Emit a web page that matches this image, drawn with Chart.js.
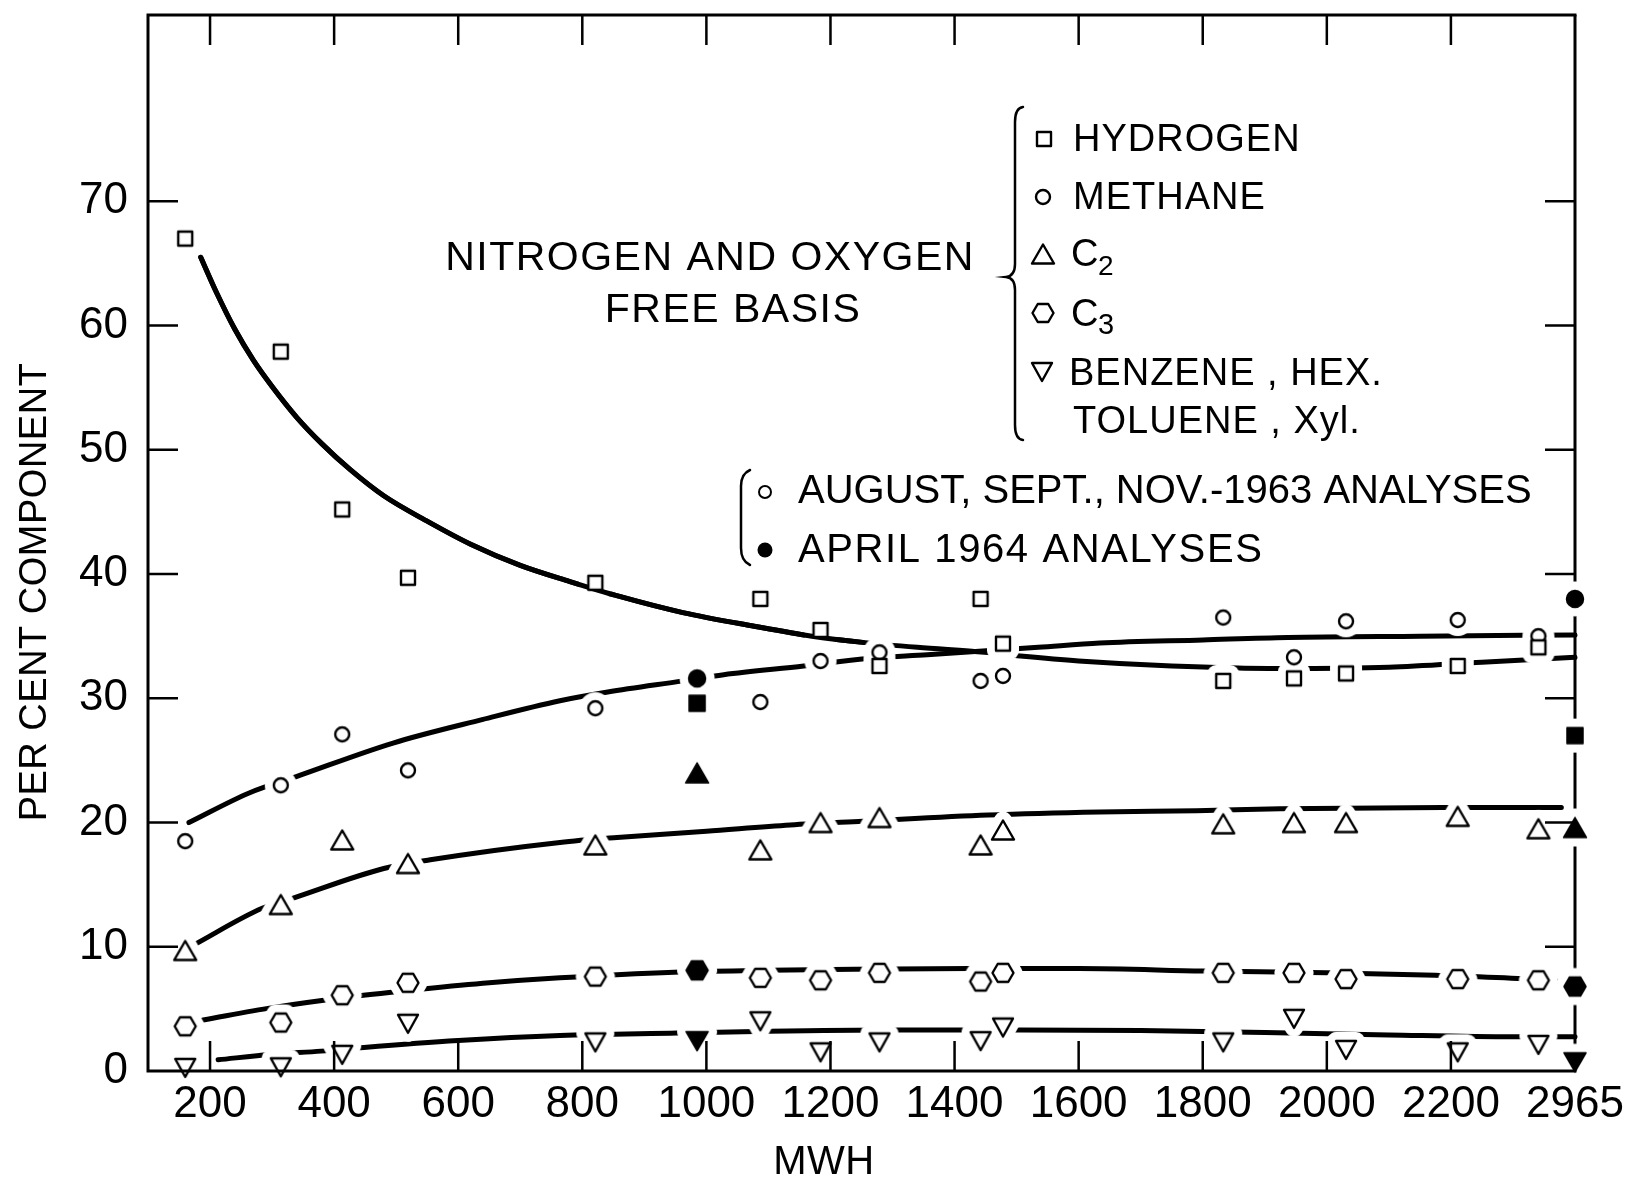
<!DOCTYPE html>
<html>
<head>
<meta charset="utf-8">
<title>Per cent component vs MWH</title>
<script src="https://cdn.jsdelivr.net/npm/chart.js@4.4.1/dist/chart.umd.min.js"></script>
<style>
  html, body { margin: 0; padding: 0; background: #fff; }
  #wrap { width: 1625px; height: 1177px; }
</style>
</head>
<body>
<div id="wrap"><canvas id="chart" width="1625" height="1177"></canvas></div>
<script>
// MWH of the Aug./Sept./Nov. 1963 analyses, shared by every component
const mwh = [160, 314, 413, 519, 821, 1087, 1184, 1279, 1442, 1478, 1833, 1947, 2031, 2211, 2341];

// per cent component, nitrogen and oxygen free basis
const hydrogen  = [67.0, 57.9, 45.2, 39.7, 39.3, 38.0, 35.5, 32.6, 38.0, 34.4, 31.4, 31.6, 32.0, 32.6, 34.1];
const methane   = [18.5, 23.0, 27.1, 24.2, 29.2, 29.7, 33.0, 33.7, 31.4, 31.8, 36.5, 33.3, 36.2, 36.3, 35.0];
const c2        = [9.7, 13.4, 18.6, 16.7, 18.2, 17.8, 20.0, 20.4, 18.2, 19.4, 19.9, 20.0, 20.0, 20.5, 19.5];
const c3        = [3.6, 3.9, 6.1, 7.1, 7.6, 7.5, 7.3, 7.9, 7.2, 7.9, 7.9, 7.9, 7.4, 7.4, 7.3];
const aromatics = [0.25, 0.3, 1.3, 3.8, 2.3, 4.0, 1.5, 2.3, 2.4, 3.5, 2.3, 4.2, 1.7, 1.5, 2.1];

// April 1964 analyses (the second one is plotted on the 2965 tick at the axis end)
const aprilMwh       = [985, 2400];
const aprilHydrogen  = [29.6, 27.0];
const aprilMethane   = [31.6, 38.0];
const aprilC2        = [24.0, 19.6];
const aprilC3        = [8.1, 6.8];
const aprilAromatics = [2.4, 0.7];

// hand-faired curves
const h2FitX = [185, 210, 240, 270, 300, 340, 380, 426, 480, 552, 620, 700, 780, 860, 962, 1077, 1170, 1252, 1340, 1448, 1506, 1600, 1750, 1925, 2100, 2250, 2400];
const h2FitY = [65.5, 62.7, 59.7, 57.2, 55.1, 52.6, 50.5, 48.4, 46.3, 44.2, 42.4, 40.7, 39.4, 38.2, 36.9, 35.8, 35.0, 34.5, 34.1, 33.7, 33.4, 33.0, 32.6, 32.4, 32.5, 32.9, 33.3];
const ch4FitX = [166, 264, 339, 495, 640, 764, 841, 962, 1028, 1157, 1259, 1356, 1535, 1634, 1800, 1937, 2150, 2400];
const ch4FitY = [20.0, 22.4, 23.7, 26.4, 28.3, 29.8, 30.5, 31.4, 31.9, 32.6, 33.2, 33.5, 34.1, 34.45, 34.7, 34.9, 35.0, 35.1];
const c2FitX = [172, 284, 333, 480, 555, 764, 856, 1000, 1135, 1252, 1454, 1634, 1790, 1925, 2192, 2378];
const c2FitY = [10.1, 13.1, 13.9, 16.3, 17.0, 18.4, 18.8, 19.3, 19.8, 20.1, 20.6, 20.85, 20.95, 21.1, 21.2, 21.2];
const c3FitX = [189, 300, 431, 543, 650, 764, 948, 1100, 1238, 1425, 1600, 1800, 2000, 2175, 2308, 2400];
const c3FitY = [4.1, 5.1, 6.0, 6.6, 7.1, 7.5, 7.95, 8.1, 8.2, 8.25, 8.25, 8.05, 7.9, 7.7, 7.45, 7.1];
const aromFitX = [213, 300, 379, 448, 600, 764, 953, 1100, 1300, 1500, 1700, 1900, 2100, 2300, 2400];
const aromFitY = [0.9, 1.35, 1.6, 1.9, 2.45, 2.85, 3.05, 3.2, 3.3, 3.3, 3.25, 3.1, 2.9, 2.75, 2.75];

// axes
const xTickValues = [200, 400, 600, 800, 1000, 1200, 1400, 1600, 1800, 2000, 2200, 2400];
const xTickLabels = ['200', '400', '600', '800', '1000', '1200', '1400', '1600', '1800', '2000', '2200', '2965'];
const yTickValues = [0, 10, 20, 30, 40, 50, 60, 70];

const FONT = '"Liberation Sans", Arial, sans-serif';
const HALO_PAD = 9;

// symbol sizes: [width, height] for open and filled versions
const SYMBOL = {
  square: { open: [14, 14], filled: [16, 16] },
  circle: { open: [14, 14], filled: [17, 17] },
  up:     { open: [22, 19], filled: [23, 20] },
  hex:    { open: [21, 18], filled: [22, 19] },
  down:   { open: [20, 18], filled: [22, 19] }
};

function shapePath(ctx, shape, w, h) {
  ctx.beginPath();
  if (shape === 'square') {
    ctx.rect(-w / 2, -h / 2, w, h);
  } else if (shape === 'circle') {
    ctx.ellipse(0, 0, w / 2, h / 2, 0, 0, Math.PI * 2);
  } else if (shape === 'up') {
    ctx.moveTo(0, -h / 2); ctx.lineTo(w / 2, h / 2); ctx.lineTo(-w / 2, h / 2); ctx.closePath();
  } else if (shape === 'down') {
    ctx.moveTo(-w / 2, -h / 2); ctx.lineTo(w / 2, -h / 2); ctx.lineTo(0, h / 2); ctx.closePath();
  } else if (shape === 'hex') {
    ctx.moveTo(-w / 2, 0); ctx.lineTo(-w / 4, -h / 2); ctx.lineTo(w / 4, -h / 2);
    ctx.lineTo(w / 2, 0); ctx.lineTo(w / 4, h / 2); ctx.lineTo(-w / 4, h / 2); ctx.closePath();
  }
}

// symbol drawn into a small canvas, used as a Chart.js pointStyle
function makeSymbol(shape, filled) {
  const [w, h] = SYMBOL[shape][filled ? 'filled' : 'open'];
  const size = 2 * Math.ceil(Math.max(w, h) / 2 + 3);
  const c = document.createElement('canvas');
  c.width = c.height = size;
  const g = c.getContext('2d');
  g.translate(size / 2, size / 2);
  g.lineJoin = 'round';
  shapePath(g, shape, w, h);
  g.fillStyle = filled ? '#000' : '#fff';
  g.fill();
  g.strokeStyle = '#000';
  g.lineWidth = filled ? 1.5 : 2.4;
  g.stroke();
  return c;
}

// white knock-out around a symbol, so the faired lines break where a point sits
function makeHalo(shape, filled) {
  const [w, h] = SYMBOL[shape][filled ? 'filled' : 'open'];
  const size = 2 * Math.ceil(Math.max(w, h) / 2 + HALO_PAD + 2);
  const c = document.createElement('canvas');
  c.width = c.height = size;
  const g = c.getContext('2d');
  g.translate(size / 2, size / 2);
  g.lineJoin = 'round';
  shapePath(g, shape, w, h);
  g.fillStyle = '#fff';
  g.fill();
  g.strokeStyle = '#fff';
  g.lineWidth = HALO_PAD * 2;
  g.stroke();
  return c;
}

const pts = (xs, ys) => xs.map((x, i) => ({ x, y: ys[i] }));

const components = [
  { shape: 'square', values: hydrogen,  april: aprilHydrogen,  fitX: h2FitX,   fitY: h2FitY },
  { shape: 'circle', values: methane,   april: aprilMethane,   fitX: ch4FitX,  fitY: ch4FitY },
  { shape: 'up',     values: c2,        april: aprilC2,        fitX: c2FitX,   fitY: c2FitY },
  { shape: 'hex',    values: c3,        april: aprilC3,        fitX: c3FitX,   fitY: c3FitY },
  { shape: 'down',   values: aromatics, april: aprilAromatics, fitX: aromFitX, fitY: aromFitY }
];

const symbols = {};
Object.keys(SYMBOL).forEach(s => {
  symbols[s] = {
    open: makeSymbol(s, false), filled: makeSymbol(s, true),
    openHalo: makeHalo(s, false), filledHalo: makeHalo(s, true)
  };
});

const fitStyle = {
  showLine: true, borderColor: '#000', borderWidth: 5, pointRadius: 0,
  cubicInterpolationMode: 'monotone', borderCapStyle: 'round', borderJoinStyle: 'round',
  fill: false, clip: false
};

const datasets = [];
components.forEach(c => {
  const sym = symbols[c.shape];
  datasets.push({ ...fitStyle, data: pts(c.fitX, c.fitY), order: 3 });
  datasets.push({ data: pts(mwh, c.values), pointStyle: sym.openHalo, pointRadius: 8, clip: false, order: 2 });
  datasets.push({ data: pts(aprilMwh, c.april), pointStyle: sym.filledHalo, pointRadius: 8, clip: false, order: 2 });
  datasets.push({ data: pts(mwh, c.values), pointStyle: sym.open, pointRadius: 8, clip: false, order: 1 });
  datasets.push({ data: pts(aprilMwh, c.april), pointStyle: sym.filled, pointRadius: 8, clip: false, order: 1 });
});
// the hydrogen curve is drawn unbroken up to where it meets the methane curve
datasets.push({
  ...fitStyle, data: pts(h2FitX, h2FitY), order: 1.5,
  segment: { borderColor: ctx => (ctx.p1.parsed.x > 1252 ? 'rgba(0,0,0,0)' : undefined) }
});

function text(ctx, str, x, y, size, spacing, align) {
  ctx.font = size + 'px ' + FONT;
  ctx.letterSpacing = (spacing || 0) + 'px';
  ctx.textAlign = align || 'left';
  ctx.textBaseline = 'alphabetic';
  ctx.fillText(str, x, y + 0.358 * size);
}

const framePlugin = {
  id: 'frame',
  beforeDatasetsDraw(chart) {
    // right edge goes under the points so it breaks around the April symbols
    const { ctx, chartArea: a } = chart;
    ctx.save();
    ctx.strokeStyle = '#000';
    ctx.lineWidth = 3;
    ctx.beginPath();
    ctx.moveTo(a.right, a.top);
    ctx.lineTo(a.right, a.bottom);
    ctx.stroke();
    ctx.restore();
  },
  afterDatasetsDraw(chart) {
    const { ctx, chartArea: a, scales } = chart;
    ctx.save();
    ctx.strokeStyle = '#000';
    ctx.lineCap = 'square';
    ctx.lineWidth = 3;
    ctx.beginPath();
    ctx.moveTo(a.right, a.top);
    ctx.lineTo(a.left, a.top);
    ctx.lineTo(a.left, a.bottom);
    ctx.lineTo(a.right, a.bottom);
    ctx.stroke();

    // inward tick marks on all four sides
    const len = 30;
    ctx.lineWidth = 2.5;
    ctx.lineCap = 'butt';
    ctx.beginPath();
    xTickValues.filter(v => v < 2400).forEach(v => {
      const px = scales.x.getPixelForValue(v);
      ctx.moveTo(px, a.top); ctx.lineTo(px, a.top + len);
      ctx.moveTo(px, a.bottom); ctx.lineTo(px, a.bottom - len);
    });
    yTickValues.filter(v => v > 0).forEach(v => {
      const py = scales.y.getPixelForValue(v);
      ctx.moveTo(a.left, py); ctx.lineTo(a.left + len, py);
      ctx.moveTo(a.right, py); ctx.lineTo(a.right - len, py);
    });
    ctx.stroke();
    ctx.restore();
  },
  afterDraw(chart) {
    const ctx = chart.ctx;
    ctx.save();
    ctx.fillStyle = '#000';
    ctx.strokeStyle = '#000';

    // axis titles
    text(ctx, 'MWH', 824, 1160, 40, 0.5, 'center');
    ctx.save();
    ctx.translate(32, 592);
    ctx.rotate(-Math.PI / 2);
    text(ctx, 'PER CENT COMPONENT', 0, 0, 38, 0.5, 'center');
    ctx.restore();

    // basis note
    text(ctx, 'NITROGEN AND OXYGEN', 710, 255, 41, 1.5, 'center');
    text(ctx, 'FREE BASIS', 733, 307, 41, 1.5, 'center');

    // component key with its brace
    ctx.lineWidth = 2.5;
    ctx.lineCap = 'round';
    ctx.beginPath();
    ctx.moveTo(1023, 107);
    ctx.quadraticCurveTo(1015, 108, 1015, 122);
    ctx.lineTo(1015, 264);
    ctx.quadraticCurveTo(1015, 276, 1006, 277);
    ctx.quadraticCurveTo(1015, 278, 1015, 290);
    ctx.lineTo(1015, 425);
    ctx.quadraticCurveTo(1015, 439, 1023, 440);
    ctx.stroke();

    const keySym = (shape, filled, x, y) => {
      const img = symbols[shape][filled ? 'filled' : 'open'];
      ctx.drawImage(img, x - img.width / 2, y - img.height / 2);
    };
    keySym('square', false, 1044, 139);
    text(ctx, 'HYDROGEN', 1073, 137, 38, 1);
    keySym('circle', false, 1043, 197);
    text(ctx, 'METHANE', 1073, 195, 38, 1);
    keySym('up', false, 1043, 254);
    text(ctx, 'C', 1071, 252, 38, 0);
    text(ctx, '2', 1098, 265, 28, 0);
    keySym('hex', false, 1043, 313);
    text(ctx, 'C', 1071, 312, 38, 0);
    text(ctx, '3', 1098, 324, 29, 0);
    keySym('down', false, 1042, 372);
    text(ctx, 'BENZENE , HEX.', 1069, 371, 38, 1);
    text(ctx, 'TOLUENE , Xyl.', 1073, 419, 38, 1);

    // analysis dates key
    ctx.beginPath();
    ctx.moveTo(750, 470);
    ctx.quadraticCurveTo(741, 474, 741, 486);
    ctx.lineTo(741, 548);
    ctx.quadraticCurveTo(741, 561, 750, 565);
    ctx.stroke();
    ctx.lineWidth = 2;
    ctx.beginPath();
    ctx.arc(765, 492, 6, 0, Math.PI * 2);
    ctx.stroke();
    ctx.beginPath();
    ctx.arc(765, 550, 7.5, 0, Math.PI * 2);
    ctx.fill();
    text(ctx, 'AUGUST, SEPT., NOV.-1963 ANALYSES', 798, 489, 40, 0);
    text(ctx, 'APRIL 1964 ANALYSES', 798, 548, 40, 1.6);
    ctx.restore();
  }
};

new Chart(document.getElementById('chart'), {
  type: 'scatter',
  data: { datasets },
  options: {
    responsive: false,
    animation: false,
    devicePixelRatio: 1,
    events: [],
    layout: { padding: { top: 15, right: 50, left: 0, bottom: 0 } },
    plugins: { legend: { display: false }, tooltip: { enabled: false } },
    scales: {
      x: {
        type: 'linear', min: 100, max: 2400,
        afterBuildTicks: s => { s.ticks = xTickValues.map(v => ({ value: v })); },
        afterFit: s => { s.height = 106; s.paddingLeft = 0; s.paddingRight = 0; },
        grid: { display: false, drawTicks: false },
        border: { display: false },
        ticks: {
          color: '#000', font: { family: FONT, size: 44 }, padding: 7,
          autoSkip: false, maxRotation: 0, minRotation: 0,
          callback: v => xTickLabels[xTickValues.indexOf(v)]
        }
      },
      y: {
        type: 'linear', min: 0, max: 85,
        afterBuildTicks: s => { s.ticks = yTickValues.map(v => ({ value: v })); },
        afterFit: s => { s.width = 148; s.paddingTop = 0; s.paddingBottom = 0; },
        grid: { display: false, drawTicks: false },
        border: { display: false },
        ticks: { color: '#000', font: { family: FONT, size: 44 }, padding: 20 }
      }
    }
  },
  plugins: [framePlugin]
});
</script>
</body>
</html>
